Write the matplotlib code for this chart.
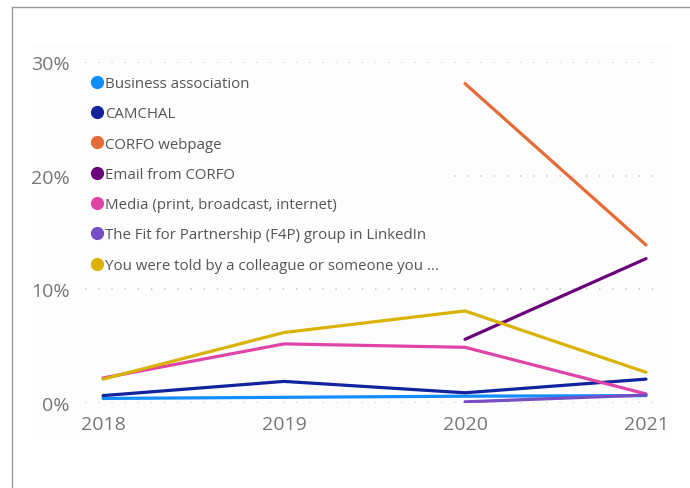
import matplotlib
matplotlib.use("Agg")
import matplotlib.pyplot as plt
from matplotlib.lines import Line2D
from matplotlib.patches import Rectangle
import numpy as np

plt.rcParams['font.family'] = ['Open Sans', 'DejaVu Sans']

years = [2018, 2019, 2020, 2021]
series_names = [
    "Business association",
    "CAMCHAL",
    "CORFO webpage",
    "Email from CORFO",
    "Media (print, broadcast, internet)",
    "The Fit for Partnership (F4P) group in LinkedIn",
    "You were told by a colleague or someone you ...",
]
business_association = [0.4, 0.5, 0.6, 0.65]
camchal = [0.65, 1.9, 0.9, 2.1]
corfo_webpage = [None, None, 28.1, 13.9]
email_from_corfo = [None, None, 5.6, 12.7]
media = [2.2, 5.2, 4.9, 0.8]
f4p_linkedin = [None, None, 0.1, 0.7]
told_by_colleague = [2.1, 6.2, 8.1, 2.7]

series_values = [business_association, camchal, corfo_webpage, email_from_corfo,
                 media, f4p_linkedin, told_by_colleague]
colors = ["#118DFF", "#12239E", "#E66C37", "#6B007B", "#E044A7", "#744EC2", "#D9B300"]
y_ticks = [0, 10, 20, 30]
y_tick_labels = ["0%", "10%", "20%", "30%"]

W, H = 690, 489
PANEL = "#fdfdfd"
fig = plt.figure(figsize=(W / 100, H / 100), dpi=100)

# card frame and faint chart panel
fig.add_artist(Line2D([11.5 / W, 11.5 / W], [0, 1 - 7.5 / H], color="#9a9a9a", lw=1.0))
fig.add_artist(Line2D([11.5 / W, 1], [1 - 7.5 / H, 1 - 7.5 / H], color="#9a9a9a", lw=1.0))
fig.add_artist(Rectangle((32 / W, 1 - 441 / H), (673 - 32) / W, (441 - 45) / H,
                         facecolor=PANEL, edgecolor="none", zorder=0))

left, right, top, bottom = 85, 662, 63, 404
ax = fig.add_axes([left / W, 1 - bottom / H, (right - left) / W, (bottom - top) / H])
ax.patch.set_alpha(0)

px_per_year = (646 - 103) / 3
ax.set_xlim(2018 - (103 - left) / px_per_year, 2021 + (right - 646) / px_per_year)
ax.set_ylim(0, 30)

for yv in y_ticks:
    ax.axhline(yv, color="#cccccc", lw=1.3, linestyle=(0, (0.8, 6.5)), zorder=1)

# backing behind the legend hides the gridline it overlaps
ax.add_patch(Rectangle((0, 1 - (280 - top) / (bottom - top)), (452 - left) / (right - left),
                       (280 - 70) / (bottom - top), transform=ax.transAxes,
                       facecolor=PANEL, edgecolor="none", zorder=2))

for name, vals, col in zip(series_names, series_values, colors):
    v = np.array([np.nan if x is None else x for x in vals], dtype=float)
    ax.plot(years, v, color=col, lw=2.3, solid_capstyle="round", label=name, zorder=3)

for s in ax.spines.values():
    s.set_visible(False)
ax.set_xticks(years)
ax.set_xticklabels([str(y) for y in years])
ax.set_yticks(y_ticks)
ax.set_yticklabels(y_tick_labels)
ax.tick_params(length=0, labelsize=14, colors="#777777")
ax.tick_params(axis="y", pad=11)
ax.tick_params(axis="x", pad=9)

handles = [Line2D([], [], marker="o", linestyle="none", markersize=8.5,
                  markerfacecolor=c, markeredgecolor=c) for c in colors]
leg = ax.legend(handles, series_names, loc="upper left",
                bbox_to_anchor=((89 - left) / (right - left), 1 - (77 - top) / (bottom - top)),
                frameon=False, fontsize=10.8, labelcolor="#555555",
                handletextpad=0.05, handlelength=1.0, labelspacing=1.02,
                borderaxespad=0, borderpad=0)
leg.set_zorder(4)

fig.savefig("out.png", dpi=100)
